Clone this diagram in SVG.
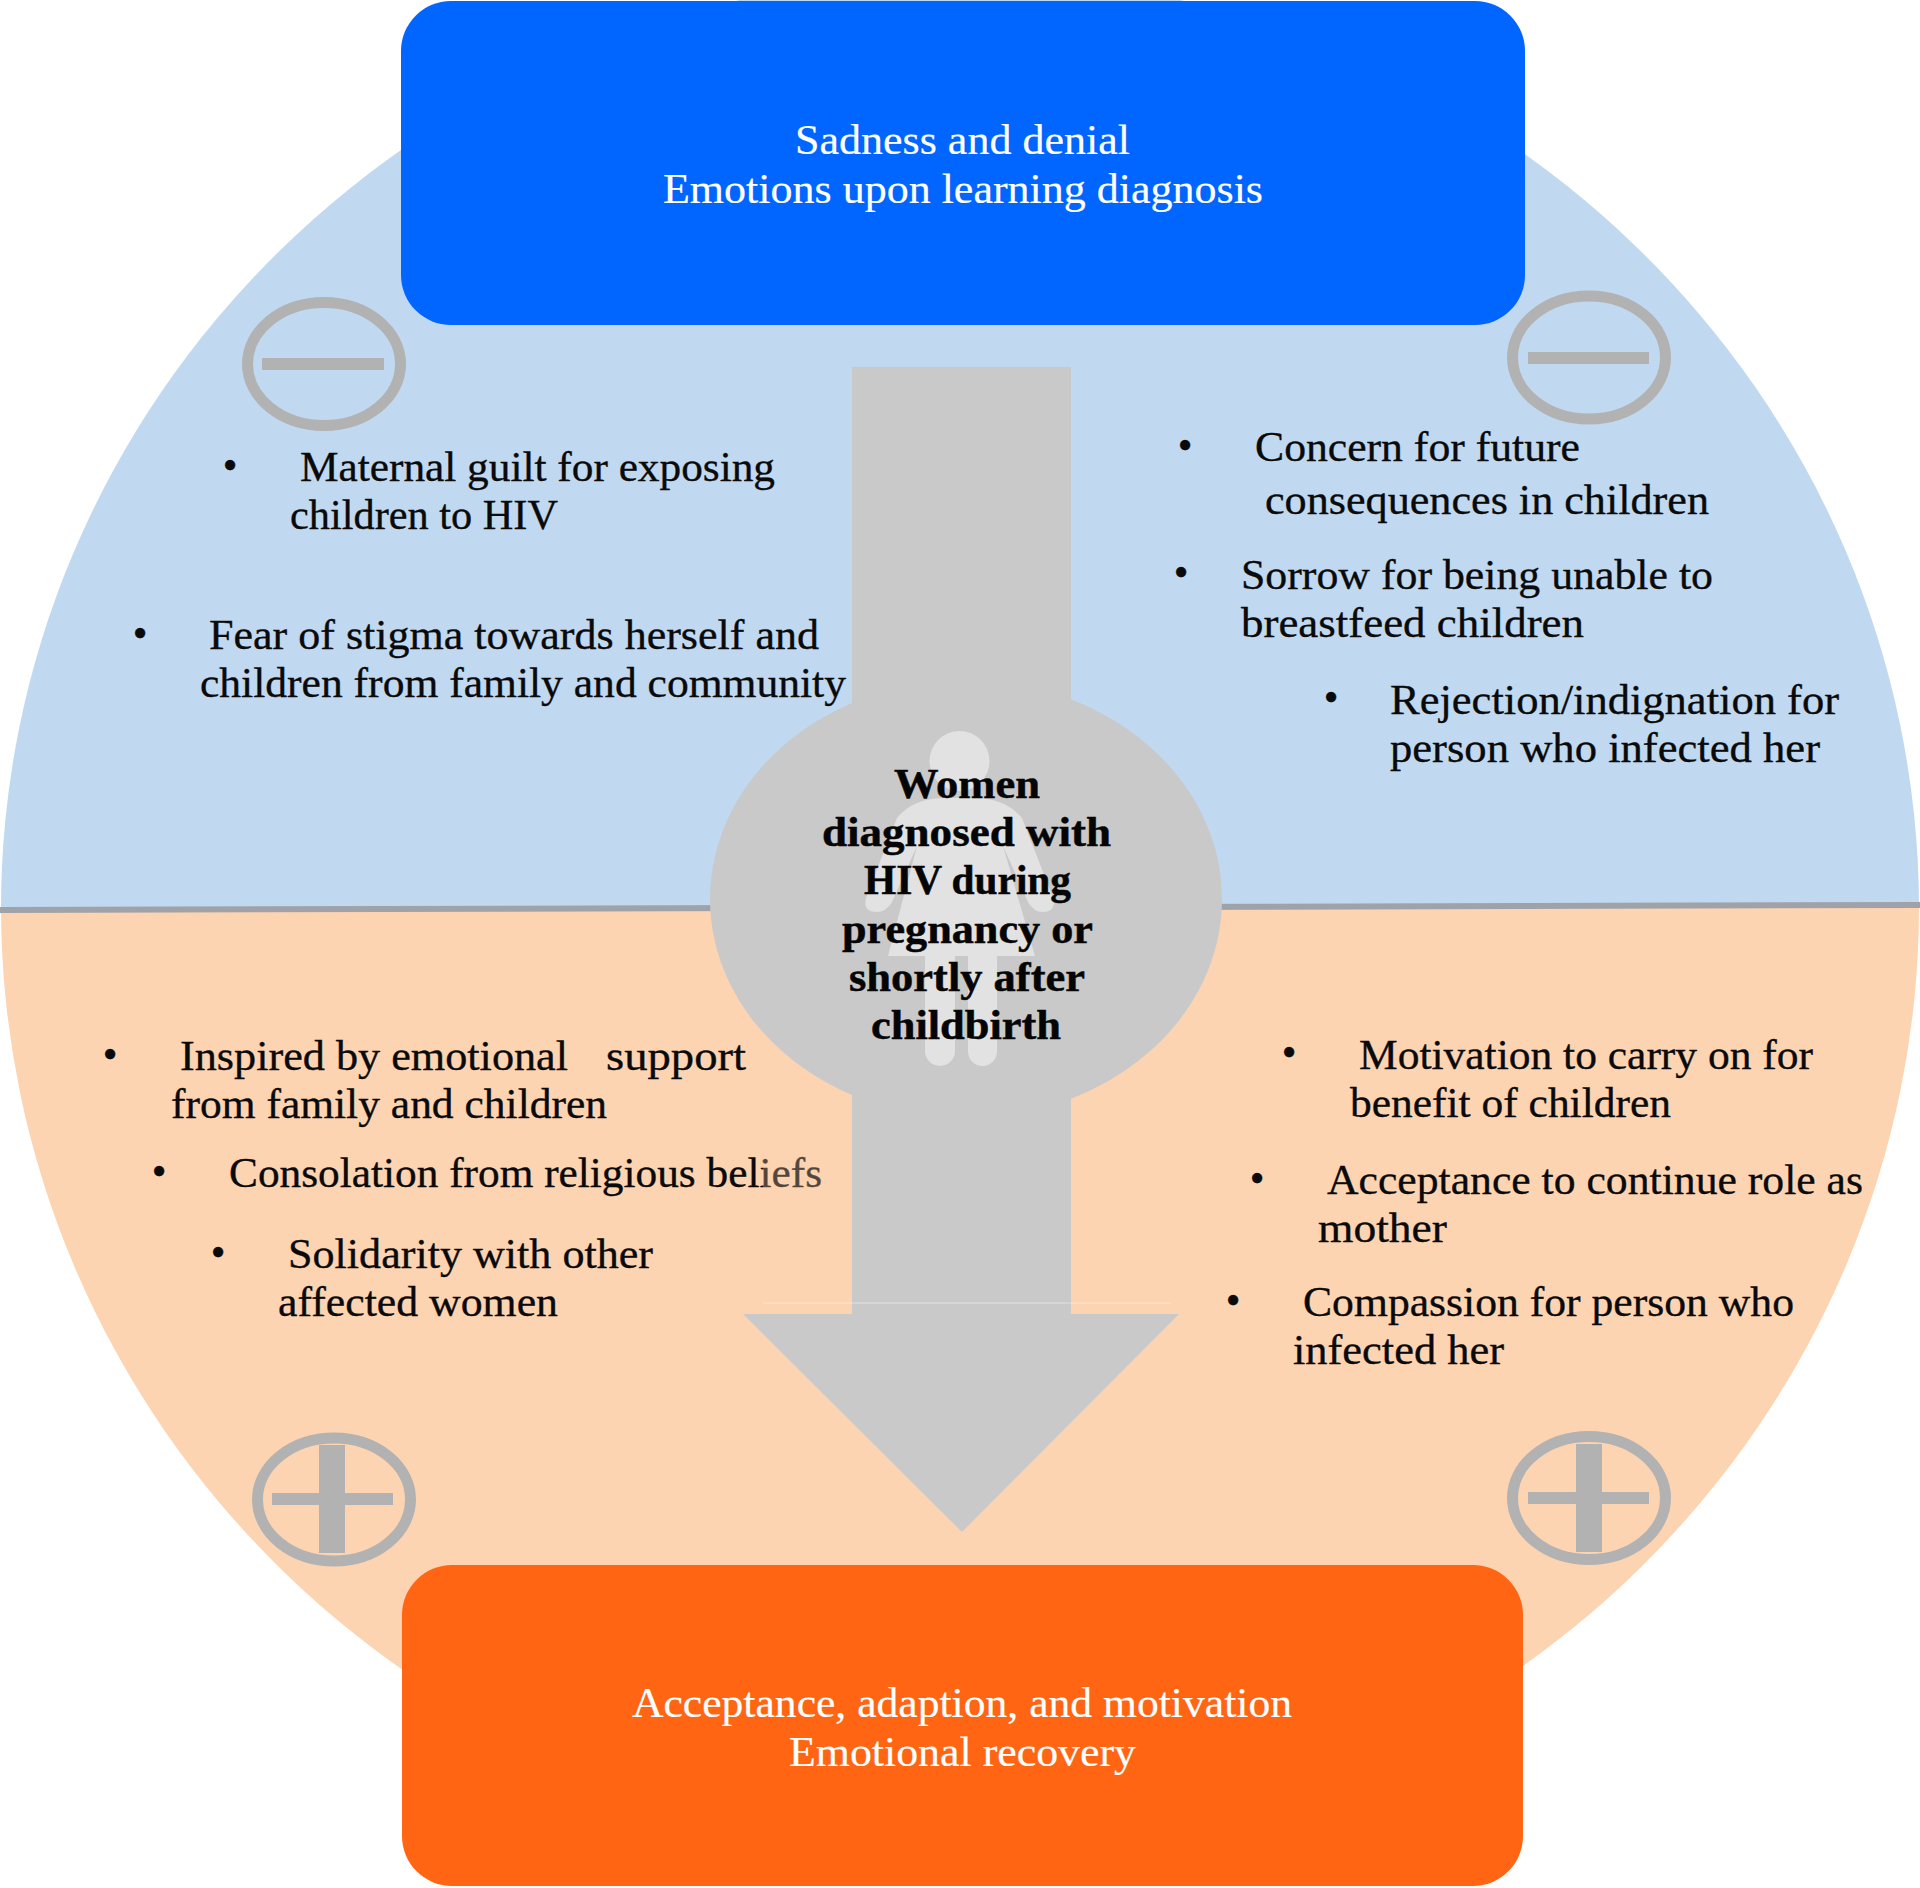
<svg xmlns="http://www.w3.org/2000/svg" width="1920" height="1888" viewBox="0 0 1920 1888">
  <style>
    text { font-family: "Liberation Serif", "Times New Roman", serif; font-size: 42px; fill: #0a0a0a; stroke: #0a0a0a; stroke-width: 0.35px; }
    .w { fill: #ffffff; stroke: #ffffff; stroke-width: 0.2px; }
    .b { font-weight: bold; font-size: 43px; fill: #050505; stroke: #050505; stroke-width: 0.5px; }
    .sign { fill: none; stroke: #b2b2b2; stroke-width: 11; }
    .bar { fill: #b2b2b2; }
    .body { fill: #e2e2e2; }
  </style>
  <rect width="1920" height="1888" fill="#ffffff"/>

  <g id="background">
    <path d="M1,912 A959,934 0 0 1 1919,906 Z" fill="#c0d9f1"/>
    <path d="M1,909 A959,938 0 0 0 1919,905 Z" fill="#fdd4b2"/>
    <path d="M0,910 L1920,905" stroke="#9fa2a8" stroke-width="6" fill="none"/>
  </g>

  <g id="negative-left">
    <text x="230" y="479" text-anchor="middle">•</text>
    <text x="300" y="481" textLength="475" lengthAdjust="spacingAndGlyphs">Maternal guilt for exposing</text>
    <text x="290" y="529" textLength="268" lengthAdjust="spacingAndGlyphs">children to HIV</text>
    <text x="140" y="647" text-anchor="middle">•</text>
    <text x="209" y="649" textLength="610" lengthAdjust="spacingAndGlyphs">Fear of stigma towards herself and</text>
    <text x="200" y="697" textLength="646" lengthAdjust="spacingAndGlyphs">children from family and community</text>
  </g>

  <g id="negative-right">
    <text x="1185" y="459" text-anchor="middle">•</text>
    <text x="1255" y="461" textLength="325" lengthAdjust="spacingAndGlyphs">Concern for future</text>
    <text x="1265" y="514" textLength="444" lengthAdjust="spacingAndGlyphs">consequences in children</text>
    <text x="1181" y="586" text-anchor="middle">•</text>
    <text x="1241" y="589" textLength="472" lengthAdjust="spacingAndGlyphs">Sorrow for being unable to</text>
    <text x="1241" y="637" textLength="343" lengthAdjust="spacingAndGlyphs">breastfeed children</text>
    <text x="1331" y="711" text-anchor="middle">•</text>
    <text x="1390" y="714" textLength="449" lengthAdjust="spacingAndGlyphs">Rejection/indignation for</text>
    <text x="1390" y="762" textLength="430" lengthAdjust="spacingAndGlyphs">person who infected her</text>
  </g>

  <g id="positive-left">
    <text x="110" y="1068" text-anchor="middle">•</text>
    <text x="180" y="1070" textLength="388" lengthAdjust="spacingAndGlyphs">Inspired by emotional</text>
    <text x="606" y="1070" textLength="140" lengthAdjust="spacingAndGlyphs">support</text>
    <text x="171" y="1118" textLength="436" lengthAdjust="spacingAndGlyphs">from family and children</text>
    <text x="159" y="1185" text-anchor="middle">•</text>
    <text x="229" y="1187" textLength="593" lengthAdjust="spacingAndGlyphs">Consolation from religious beliefs</text>
    <text x="218" y="1266" text-anchor="middle">•</text>
    <text x="288" y="1268" textLength="365" lengthAdjust="spacingAndGlyphs">Solidarity with other</text>
    <text x="278" y="1316" textLength="280" lengthAdjust="spacingAndGlyphs">affected women</text>
  </g>

  <g id="positive-right">
    <text x="1289" y="1066" text-anchor="middle">•</text>
    <text x="1359" y="1069" textLength="454" lengthAdjust="spacingAndGlyphs">Motivation to carry on for</text>
    <text x="1350" y="1117" textLength="321" lengthAdjust="spacingAndGlyphs">benefit of children</text>
    <text x="1257" y="1192" text-anchor="middle">•</text>
    <text x="1327" y="1194" textLength="536" lengthAdjust="spacingAndGlyphs">Acceptance to continue role as</text>
    <text x="1318" y="1242" textLength="129" lengthAdjust="spacingAndGlyphs">mother</text>
    <text x="1233" y="1314" text-anchor="middle">•</text>
    <text x="1303" y="1316" textLength="491" lengthAdjust="spacingAndGlyphs">Compassion for person who</text>
    <text x="1293" y="1364" textLength="211" lengthAdjust="spacingAndGlyphs">infected her</text>
  </g>

  <!-- Soft veil behind the lower half of the shaft -->
  <rect x="763" y="1060" width="408" height="243" fill="#fdd4b2" opacity="0.3"/>

  <g id="connectors">
    <path id="progress-arrow" d="M852,367 H1071 V1314 H1179 L962,1532 L743,1314 H852 Z" fill="#c9c9c9"/>
    <path d="M763,1303 H1171" stroke="#ffffff" stroke-opacity="0.3" stroke-width="1.5"/>
  </g>

  <g id="sadness">
    <rect x="401" y="1" width="1124" height="324" rx="50" fill="#0066ff"/>
    <text class="w" x="795" y="154" textLength="335" lengthAdjust="spacingAndGlyphs">Sadness and denial</text>
    <text class="w" x="663" y="203" textLength="600" lengthAdjust="spacingAndGlyphs">Emotions upon learning diagnosis</text>
  </g>

  <g id="acceptance">
    <rect x="402" y="1565" width="1121" height="321" rx="50" fill="#ff6513"/>
    <text class="w" x="632" y="1717" textLength="660" lengthAdjust="spacingAndGlyphs">Acceptance, adaption, and motivation</text>
    <text class="w" x="789" y="1766" textLength="347" lengthAdjust="spacingAndGlyphs">Emotional recovery</text>
  </g>

  <g id="minus-left">
    <ellipse class="sign" cx="324" cy="364" rx="76.5" ry="61.5"/>
    <rect class="bar" x="262" y="358" width="122" height="12"/>
  </g>
  <g id="minus-right">
    <ellipse class="sign" cx="1589" cy="357.5" rx="76.5" ry="61.5"/>
    <rect class="bar" x="1528" y="352" width="121" height="12"/>
  </g>
  <g id="plus-left">
    <ellipse class="sign" cx="334" cy="1499.5" rx="76.5" ry="61.5"/>
    <rect class="bar" x="272" y="1493" width="121" height="12"/>
    <rect class="bar" x="319" y="1445" width="26" height="108"/>
  </g>
  <g id="plus-right">
    <ellipse class="sign" cx="1589" cy="1498" rx="76.5" ry="61.5"/>
    <rect class="bar" x="1528" y="1492" width="121" height="12"/>
    <rect class="bar" x="1576" y="1444" width="26" height="108"/>
  </g>

  <g id="women">
    <ellipse cx="966" cy="899" rx="256" ry="219" fill="#c9c9c9"/>
    <g id="figure">
      <circle class="body" cx="959.5" cy="761" r="30"/>
      <path class="body" d="M945,798 H975 Q1005,798 1022,818 L1052,895 Q1058,912 1042,912 Q1034,912 1028,902 L1003,846 L1035,956 H888 L917,846 L892,902 Q886,912 877,912 Q861,912 867,895 L897,818 Q913,798 945,798 Z"/>
      <rect class="body" x="925" y="940" width="30" height="126" rx="15"/>
      <rect class="body" x="968" y="940" width="29" height="126" rx="14.5"/>
    </g>
    <text class="b" x="894" y="798" textLength="146" lengthAdjust="spacingAndGlyphs">Women</text>
    <text class="b" x="822" y="846" textLength="289" lengthAdjust="spacingAndGlyphs">diagnosed with</text>
    <text class="b" x="864" y="894" textLength="207" lengthAdjust="spacingAndGlyphs">HIV during</text>
    <text class="b" x="842" y="943" textLength="251" lengthAdjust="spacingAndGlyphs">pregnancy or</text>
    <text class="b" x="849" y="991" textLength="236" lengthAdjust="spacingAndGlyphs">shortly after</text>
    <text class="b" x="871" y="1039" textLength="190" lengthAdjust="spacingAndGlyphs">childbirth</text>
  </g>
</svg>
